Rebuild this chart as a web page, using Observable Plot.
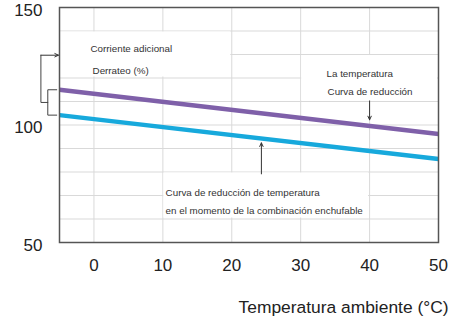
<!DOCTYPE html>
<html>
<head>
<meta charset="utf-8">
<script src="https://cdn.jsdelivr.net/npm/d3@7"></script>
<script src="https://cdn.jsdelivr.net/npm/@observablehq/plot@0.6"></script>
<style>
  html, body { margin: 0; padding: 0; background: #fff; }
  #chart { width: 454px; height: 321px; }
</style>
</head>
<body>
<div id="chart"></div>
<script>
// ---- data ----
const temps = [-5, 50];
const additionalCurrent = [115, 96.2];   // purple: "La temperatura / Curva de reducción"
const pluggedCurrent = [104.2, 85.5];    // blue: "en el momento de la combinación enchufable"
const xTicks = [0, 10, 20, 30, 40, 50];
const yTicks = [50, 100, 150];
const gridX = [0, 10, 20, 30, 40];
const gridY = [60, 70, 80, 90, 100, 110, 120, 130, 140];
const xLabel = "Temperatura ambiente (°C)";
const labelsTopLeft = ["Corriente adicional", "Derrateo (%)"];
const labelsRight = ["La temperatura", "Curva de reducción"];
const labelsBottom = ["Curva de reducción de temperatura", "en el momento de la combinación enchufable"];

const purpleRows = temps.map((t, i) => ({t, v: additionalCurrent[i]}));
const blueRows = temps.map((t, i) => ({t, v: pluggedCurrent[i]}));

// annotation boxes (blank areas behind labels) in data units
const boxes = [
  {x1: -5, x2: 20, y1: 120, y2: 140},
  {x1: 30, x2: 50, y1: 110, y2: 130},
  {x1: 10, x2: 40, y1: 60, y2: 80}
];

const textRows = [
  {x: -0.5, y: 132.4, text: labelsTopLeft[0]},
  {x: -0.2, y: 123.0, text: labelsTopLeft[1]},
  {x: 33.75, y: 121.8, text: labelsRight[0]},
  {x: 33.9, y: 114.3, text: labelsRight[1]},
  {x: 10.4, y: 71.1, text: labelsBottom[0]},
  {x: 10.4, y: 63.4, text: labelsBottom[1]}
];

const yTop = additionalCurrent[0], yBot = pluggedCurrent[0];
const yMid = (yTop + yBot) / 2;
const bracket = [
  {x: -5.4, y: yTop}, {x: -6.7, y: yTop}, {x: -6.7, y: yBot}, {x: -5.4, y: yBot}
];
const bracketLead = [
  {x: -6.7, y: yMid}, {x: -7.7, y: yMid}, {x: -7.7, y: 129.7}
];

const arrows = [
  {x1: -7.7, y1: 129.7, x2: -5.15, y2: 129.7},
  {x1: 40, y1: 110.2, x2: 40, y2: 102.2},
  {x1: 24.3, y1: 79.2, x2: 24.3, y2: 92.4}
];

const chart = Plot.plot({
  width: 454,
  height: 321,
  marginTop: 7,
  marginBottom: 79,
  marginLeft: 59,
  marginRight: 16,
  style: {fontFamily: "'Liberation Sans', Arial, sans-serif", fontSize: "16px", color: "#222", background: "#fff"},
  x: {domain: [-5, 50]},
  y: {domain: [50, 150]},
  marks: [
    Plot.ruleX(gridX, {stroke: "#d9d9d9", strokeWidth: 1}),
    Plot.ruleY(gridY, {stroke: "#d9d9d9", strokeWidth: 1}),
    Plot.rect(boxes, {x1: "x1", x2: "x2", y1: "y1", y2: "y2", fill: "white", inset: 1}),
    Plot.line(purpleRows, {x: "t", y: "v", stroke: "#7f60a9", strokeWidth: 4.5, strokeLinecap: "butt"}),
    Plot.line(blueRows, {x: "t", y: "v", stroke: "#17a9dc", strokeWidth: 4.5, strokeLinecap: "butt"}),
    Plot.text(textRows, {x: "x", y: "y", text: "text", textAnchor: "start", fontSize: 9.8, fill: "#333"}),
    Plot.line(bracket, {x: "x", y: "y", stroke: "#444", strokeWidth: 1, clip: false}),
    Plot.line(bracketLead, {x: "x", y: "y", stroke: "#444", strokeWidth: 1, clip: false}),
    Plot.arrow(arrows, {x1: "x1", y1: "y1", x2: "x2", y2: "y2", stroke: "#333", strokeWidth: 1, headLength: 6, headAngle: 50, clip: false}),
    Plot.frame({stroke: "#555", strokeWidth: 1.5}),
    Plot.axisY({ticks: yTicks, tickSize: 0, tickPadding: 17, dy: 3, fontSize: 17, label: null, fill: "#222"}),
    Plot.axisX({ticks: xTicks, tickSize: 0, tickPadding: 16, fontSize: 17, label: null, fill: "#222"}),
    Plot.text([xLabel], {frameAnchor: "bottom-right", text: d => d, textAnchor: "end", dx: 10, dy: 65, fontSize: 17.4, fill: "#222", lineAnchor: "middle"})
  ]
});
document.getElementById("chart").appendChild(chart);
</script>
</body>
</html>
